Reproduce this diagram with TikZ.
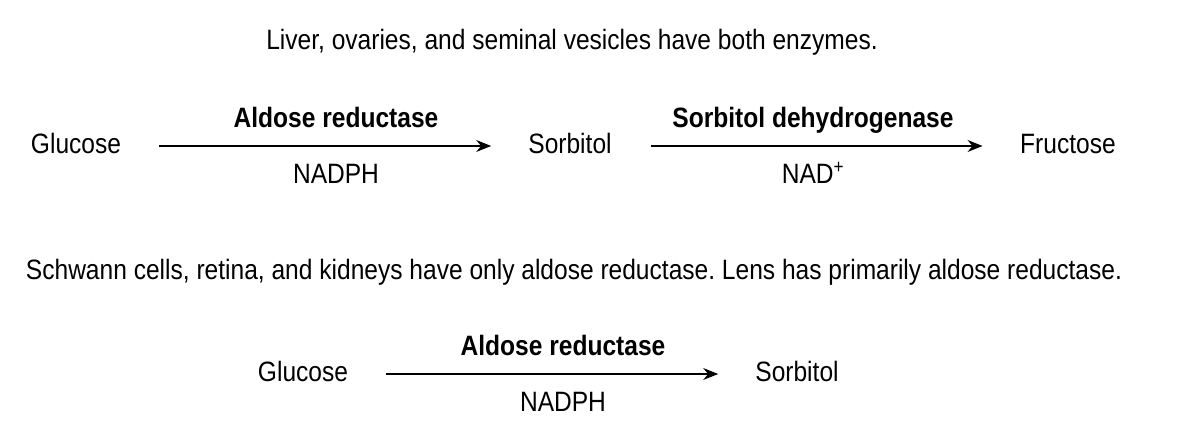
\documentclass[tikz,border=0pt]{standalone}
\usepackage{fontspec}
\setmainfont{Liberation Sans}[FakeStretch=0.877]
\usetikzlibrary{arrows.meta}
\frenchspacing

\begin{document}
\begin{tikzpicture}[x=1pt, y=-1pt,
  txt/.style={inner sep=0pt, anchor=base, font=\fontsize{28}{33}\selectfont},
  enz/.style={txt, font=\fontsize{28}{33}\selectfont\bfseries},
  rxn/.style={-{Stealth[length=15pt, width=12pt, inset=5pt]}, line width=1.2pt}]

  \useasboundingbox (0,0) rectangle (1179,432);

  % 第一行：两种酶都有
  \node[txt] (note1) at (572,49) {Liver, ovaries, and seminal vesicles have both enzymes.};

  \node[txt] (glc1) at (76,153)   {Glucose};
  \node[txt] (sor1) at (570,153)  {Sorbitol};
  \node[txt] (fru1) at (1068,153) {Fructose};

  \draw[rxn, shorten <=37.5pt, shorten >=37pt] (glc1.east |- 0,146) -- (sor1.west |- 0,146);
  \draw[rxn, shorten <=39pt, shorten >=37.5pt] (sor1.east |- 0,146) -- (fru1.west |- 0,146);

  \node[enz] (ar1)  at (336,127) {Aldose reductase};
  \node[txt] (nph1) at (336,183) {NADPH};
  \node[enz] (sdh)  at (813,127) {Sorbitol dehydrogenase};
  \node[txt] (nad)  at (813,183) {NAD\textsuperscript{+}};

  % 第二行：只有醛糖还原酶
  \node[txt] (note2) at (574,279) {Schwann cells, retina, and kidneys have only aldose reductase. Lens has primarily aldose reductase.};

  \node[txt] (glc2) at (303,381) {Glucose};
  \node[txt] (sor2) at (797,381) {Sorbitol};

  \draw[rxn, shorten <=37.5pt, shorten >=37pt] (glc2.east |- 0,374) -- (sor2.west |- 0,374);

  \node[enz] (ar2)  at (563,355) {Aldose reductase};
  \node[txt] (nph2) at (563,411) {NADPH};
\end{tikzpicture}
\end{document}
